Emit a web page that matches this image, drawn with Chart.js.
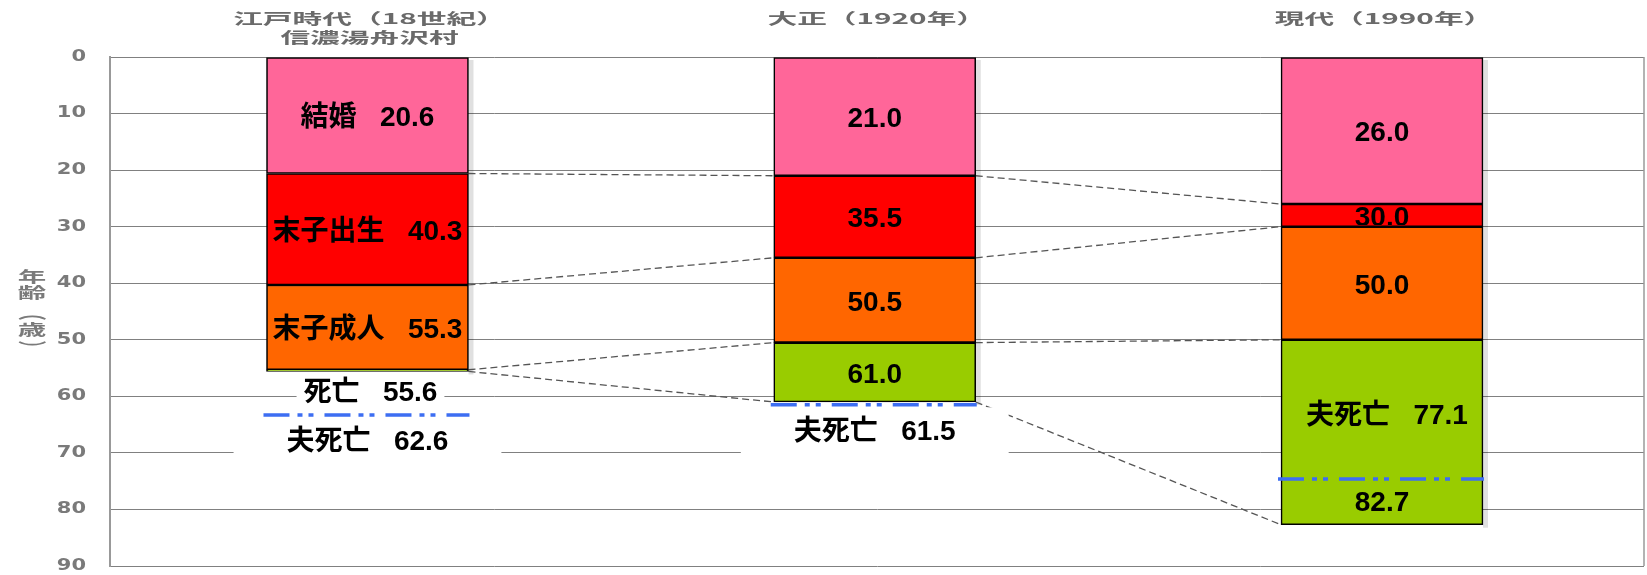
<!DOCTYPE html>
<html lang="ja">
<head>
<meta charset="utf-8">
<title>ライフサイクルの変化</title>
<script src="https://cdn.jsdelivr.net/npm/chart.js@4/dist/chart.umd.min.js"></script>
<style>
  html, body { margin: 0; padding: 0; background: #fff; }
  #wrap { width: 1647px; height: 575px; position: relative; }
</style>
</head>
<body>
<div id="wrap"><canvas id="grafico"></canvas></div>
<script>
//* datos
const categories = [['江戸時代（18世紀）', '信濃湯舟沢村'], ['大正（1920年）'], ['現代（1990年）']];
const marriage = [20.6, 21.0, 26.0];      // 結婚
const lastBirth = [40.3, 35.5, 30.0];     // 末子出生
const lastAdult = [55.3, 50.5, 50.0];     // 末子成人
const death = [55.6, 61.0, 82.7];         // 死亡
const husbandDeath = [62.6, 61.5, 77.1];  // 夫死亡
const husbandLine = [63.3, 61.5, 74.6];   // 夫死亡の一点鎖線（図での位置）
const segmentNames = ['結婚', '末子出生', '末子成人', '死亡'];
const yTicks = [0, 10, 20, 30, 40, 50, 60, 70, 80, 90];
const yTitle = ['年', '齢', '（', '歳', '）'];

const colores = ['#ff6699', '#ff0000', '#ff6600', '#99cc00'];
const FUENTE = 'bold 28px "Liberation Sans", "Noto Sans CJK JP", sans-serif';
const SEP = '   ';
const ceros = categories.map(() => 0);
const limites = [ceros, marriage, lastBirth, lastAdult, death];
const fmt = v => v.toFixed(1);

//* cada tramo es una barra flotante [desde, hasta]
const datasets = segmentNames.map((n, k) => ({
    label: n,
    data: limites[k].map((d, i) => ({ x: i, y: [d, limites[k + 1][i]] })),
    backgroundColor: colores[k],
    borderColor: '#000',
    borderWidth: 1.6,
    borderSkipped: false,
    barThickness: 202,
    grouped: false
}));

function barra(chart, i) {
    const el = chart.getDatasetMeta(0).data[i];
    return { izq: el.x - el.width / 2, der: el.x + el.width / 2, cx: el.x };
}

function textoEstirado(ctx, txt, x, y, font, color, sx, align, rot) {
    ctx.save();
    ctx.font = font;
    ctx.fillStyle = color;
    ctx.textAlign = align;
    ctx.textBaseline = 'middle';
    ctx.translate(x, y);
    ctx.scale(sx, 1);
    if (rot) ctx.rotate(rot);
    ctx.fillText(txt, 0, 0);
    ctx.restore();
}

function etiqueta(ctx, txt, cx, cy, clip) {
    ctx.save();
    if (clip) {
        ctx.beginPath();
        ctx.rect(clip.x, clip.y, clip.w, clip.h);
        ctx.clip();
    }
    ctx.font = FUENTE;
    ctx.fillStyle = '#000';
    ctx.textAlign = 'center';
    ctx.textBaseline = 'middle';
    ctx.fillText(txt, cx, cy);
    ctx.restore();
}

function caja(ctx, txt, cx, top, bottom, padX) {
    ctx.save();
    ctx.font = FUENTE;
    const w = ctx.measureText(txt).width;
    ctx.fillStyle = '#fff';
    ctx.fillRect(cx - w / 2 - padX, top, w + 2 * padX, bottom - top);
    ctx.restore();
}

const dibujos = {
    id: 'dibujos',
    beforeDatasetsDraw(chart) {
        const ctx = chart.ctx, ys = chart.scales.y, area = chart.chartArea;
        //* borde derecho
        ctx.save();
        ctx.strokeStyle = '#9a9a9a';
        ctx.lineWidth = 1.5;
        ctx.beginPath();
        ctx.moveTo(area.right, area.top);
        ctx.lineTo(area.right, area.bottom);
        ctx.stroke();
        //* sombras suaves de las barras
        ctx.fillStyle = 'rgba(0,0,0,0.12)';
        categories.forEach((c, i) => {
            const b = barra(chart, i);
            ctx.fillRect(b.der, ys.getPixelForValue(0) + 3, 5, ys.getPixelForValue(death[i]) - ys.getPixelForValue(0));
        });
        //* líneas punteadas que unen las barras
        ctx.strokeStyle = '#555';
        ctx.lineWidth = 1.3;
        ctx.setLineDash([7, 4]);
        for (let i = 0; i < categories.length - 1; i++) {
            const a = barra(chart, i), b = barra(chart, i + 1);
            limites.slice(1).forEach(arr => {
                ctx.beginPath();
                ctx.moveTo(a.der, ys.getPixelForValue(arr[i]));
                ctx.lineTo(b.izq, ys.getPixelForValue(arr[i + 1]));
                ctx.stroke();
            });
        }
        ctx.restore();
    },
    afterDatasetsDraw(chart) {
        const ctx = chart.ctx, ys = chart.scales.y;
        const y = v => ys.getPixelForValue(v);

        categories.forEach((c, i) => {
            const b = barra(chart, i);
            const textos = [];

            //* etiquetas dentro de cada tramo
            for (let k = 0; k < 4; k++) {
                const y1 = y(limites[k][i]), y2 = y(limites[k + 1][i]);
                if (y2 - y1 < 20) continue;
                if (k === 3 && husbandLine[i] < death[i]) continue;
                const txt = (i === 0 ? segmentNames[k] + SEP : '') + fmt(limites[k + 1][i]);
                textos.push([txt, b.cx, (y1 + y2) / 2 + 3, { x: b.izq + 1.6, y: y1 + 1.6, w: b.der - b.izq - 3.2, h: y2 - y1 - 3.2 }]);
            }

            //* muerte debajo de la barra (tramo demasiado fino)
            if (y(death[i]) - y(lastAdult[i]) < 20) {
                const txt = segmentNames[3] + SEP + fmt(death[i]);
                caja(ctx, txt, b.cx + 3, y(death[i]) + 1.5, y(death[i]) + 34, 7);
                textos.push([txt, b.cx + 3, y(death[i]) + 22]);
            }

            //* muerte del marido
            const txtMarido = '夫死亡' + SEP + fmt(husbandDeath[i]);
            if (husbandLine[i] < death[i]) {
                const y1 = y(lastAdult[i]), yl = y(husbandLine[i]), y2 = y(death[i]);
                textos.push([txtMarido, b.cx + 5, (y1 + yl) / 2 + 7]);
                textos.push([fmt(death[i]), b.cx, (yl + y2) / 2 + 1]);
            } else {
                const yl = y(husbandLine[i]);
                caja(ctx, txtMarido, b.cx, yl + 2.5, yl + 52, 53);
                textos.push([txtMarido, b.cx, yl + 27]);
            }

            //* línea de un punto y raya (azul)
            ctx.save();
            ctx.strokeStyle = '#3d6ef2';
            ctx.lineWidth = 3.5;
            ctx.setLineDash([26, 8, 5, 6, 5, 11]);
            ctx.beginPath();
            ctx.moveTo(b.izq - 3, y(husbandLine[i]));
            ctx.lineTo(b.der + 1, y(husbandLine[i]));
            ctx.stroke();
            ctx.restore();

            textos.forEach(t => etiqueta(ctx, t[0], t[1], t[2], t[3]));

            //* título de cada época arriba
            c.forEach((linea, j) => {
                textoEstirado(ctx, linea, b.cx + 2, 18.5 + j * 18.5, 'bold 15px "Noto Sans CJK JP", sans-serif', '#6a6a6a', 1.98, 'center');
            });
        });

        //* etiquetas del eje y
        ys.ticks.forEach(t => {
            textoEstirado(ctx, String(t.value), 86, ys.getPixelForValue(t.value), 'bold 15px "DejaVu Sans", sans-serif', '#7a7a7a', 1.4, 'right');
        });

        //* título vertical del eje y
        const posY = [276, 292, 313, 329, 348];
        yTitle.forEach((ch, j) => {
            const rot = (ch === '（' || ch === '）') ? Math.PI / 2 : 0;
            textoEstirado(ctx, ch, 32, posY[j], 'bold 15px "Noto Sans CJK JP", sans-serif', '#7a7a7a', 1.9, 'center', rot);
        });
    }
};

const lienzo = document.getElementById('grafico').getContext('2d');
new Chart(lienzo, {
    type: 'bar',
    data: { datasets: datasets },
    options: {
        responsive: true,
        maintainAspectRatio: false,
        animation: false,
        layout: { padding: { left: 0, right: 3, top: 0, bottom: 9 } },
        plugins: { legend: { display: false }, tooltip: { enabled: false } },
        scales: {
            x: {
                type: 'linear',
                position: 'top',
                min: -0.5076,
                max: 2.5165,
                offset: false,
                grid: { display: false, offset: false },
                border: { display: false },
                ticks: { display: false },
                afterFit: s => { s.height = 57; }
            },
            y: {
                min: 0,
                max: 90,
                reverse: true,
                afterBuildTicks: s => { s.ticks = yTicks.map(v => ({ value: v })); },
                grid: { color: '#808080', lineWidth: 1, drawTicks: false },
                border: { color: '#999', width: 2 },
                ticks: { display: false },
                afterFit: s => { s.width = 110; }
            }
        }
    },
    plugins: [dibujos]
});
</script>
</body>
</html>
